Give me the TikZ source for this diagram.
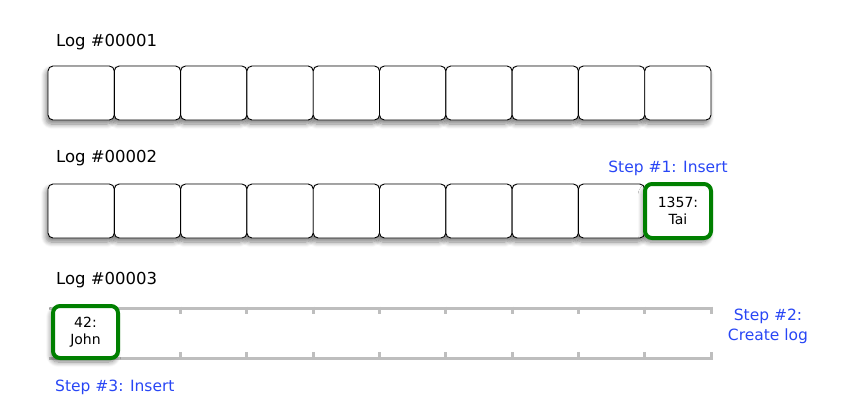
\documentclass[tikz,border=0pt]{standalone}
\usepackage{fontspec}
\setmainfont{DejaVu Sans}
\usetikzlibrary{shadows.blur}
\definecolor{stepblue}{RGB}{40,70,245}
\definecolor{boxgreen}{RGB}{0,128,0}
\definecolor{loggray}{RGB}{190,190,190}
\tikzset{
  cellbase/.style={rounded corners=5pt, minimum width=66.3pt, minimum height=54pt, inner sep=0pt},
  cellshadow/.style={cellbase, fill=white,
    blur shadow={shadow xshift=-2pt, shadow yshift=-4pt, shadow blur steps=8,
      shadow blur radius=5pt, shadow opacity=50}},
  cell/.style={cellbase, draw=black, line width=0.9pt, fill=white},
  newcell/.style={draw=boxgreen, line width=4pt, fill=white, rounded corners=7pt,
    minimum width=66pt, minimum height=54pt, inner sep=0pt, align=center,
    font=\fontsize{14}{17}\selectfont,
    blur shadow={shadow xshift=-2pt, shadow yshift=-4pt, shadow blur steps=8,
      shadow blur radius=5pt, shadow opacity=50}},
  loglabel/.style={anchor=west, inner sep=0pt, font=\fontsize{16.5}{19}\selectfont},
  steplabel/.style={inner sep=0pt, text=stepblue, align=center, font=\fontsize{15.5}{20}\selectfont},
  logline/.style={draw=loggray, line width=3pt}
}
\begin{document}
\begin{tikzpicture}[x=1pt, y=-1pt]
\useasboundingbox (0,0) rectangle (842,402);
% labels
\node[loglabel] (l1) at (56,42) {Log \#00001};
\node[loglabel] (l2) at (56,158) {Log \#00002};
\node[loglabel] (l3) at (56,280) {Log \#00003};
% shadows first
\foreach \i in {0,...,9} {
  \node[cellshadow] at ({48+33.15+66.3*\i},93) {};
}
\foreach \i in {0,...,8} {
  \node[cellshadow] at ({48+33.15+66.3*\i},211) {};
}
% row 1
\foreach \i in {0,...,9} {
  \node[cell] (a\i) at ({48+33.15+66.3*\i},93) {};
}
% row 2
\foreach \i in {0,...,8} {
  \node[cell] (b\i) at ({48+33.15+66.3*\i},211) {};
}
\node[newcell] (b9) at (678,211) {1357:\\Tai};
\node[steplabel] (s1) at (668,168) {Step \#1: Insert};
% row 3 (empty log)
\draw[logline] (49,308) -- (713,308) (49,358) -- (713,358);
\foreach \i in {1,...,10} {
  \draw[logline] ({48+66.3*\i},306.5) -- ({48+66.3*\i},314);
  \draw[logline] ({48+66.3*\i},359.5) -- ({48+66.3*\i},352);
}
\node[newcell, minimum width=65pt, minimum height=52pt] (c0) at (85.5,332) {42:\\John};
\node[steplabel] (s2) at (768,326) {Step \#2:\\Create log};
\node[steplabel, anchor=west] (s3) at (55,387) {Step \#3: Insert};
\end{tikzpicture}
\end{document}
